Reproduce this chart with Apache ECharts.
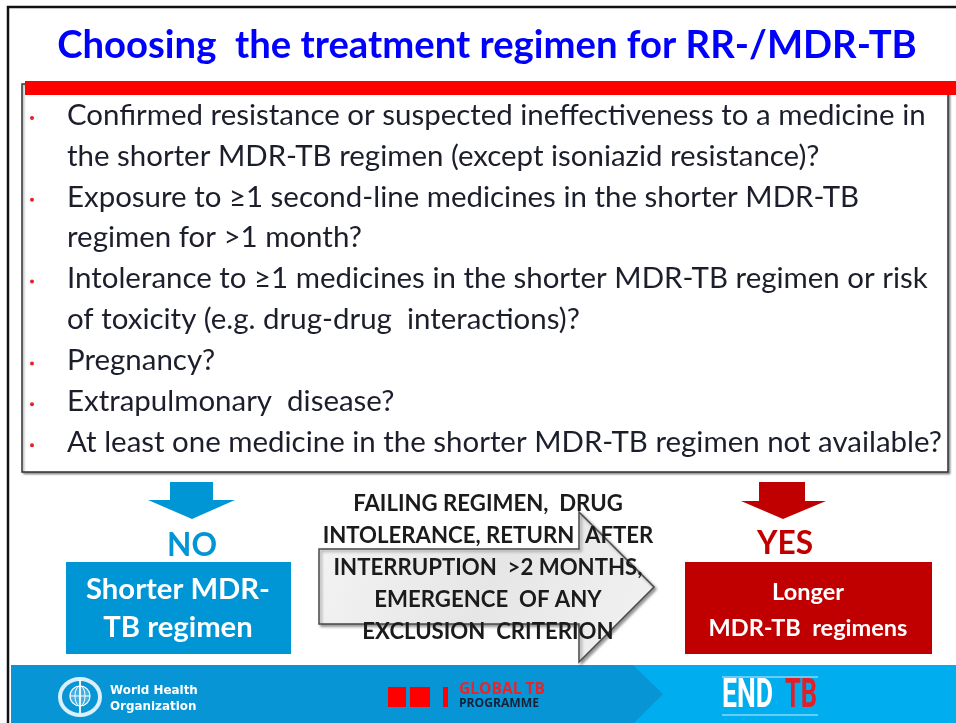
<!DOCTYPE html>
<html>
<head>
<meta charset="utf-8">
<title>Choosing the treatment regimen for RR-/MDR-TB</title>
<script src="https://cdn.jsdelivr.net/npm/echarts@6/dist/echarts.min.js"></script>
<style>
  html, body { margin: 0; padding: 0; background: #fff; }
  #chart { width: 956px; height: 723px; }
</style>
</head>
<body>
<div id="chart"></div>
<script>
  // slide texts
  const title = 'Choosing  the treatment regimen for RR-/MDR-TB'
  const questions = [
    ['Confirmed resistance or suspected ineffectiveness to a medicine in', 'the shorter MDR-TB regimen (except isoniazid resistance)?'],
    ['Exposure to \u22651 second-line medicines in the shorter MDR-TB', 'regimen for >1 month?'],
    ['Intolerance to \u22651 medicines in the shorter MDR-TB regimen or risk', 'of toxicity (e.g. drug-drug  interactions)?'],
    ['Pregnancy?'],
    ['Extrapulmonary  disease?'],
    ['At least one medicine in the shorter MDR-TB regimen not available?']
  ]
  const switchLines = ['FAILING REGIMEN,  DRUG', 'INTOLERANCE, RETURN  AFTER', 'INTERRUPTION  >2 MONTHS,', 'EMERGENCE  OF ANY', 'EXCLUSION  CRITERION']
  const noLabel = 'NO'
  const yesLabel = 'YES'
  const shorterLines = ['Shorter MDR-', 'TB regimen']
  const longerLines = ['Longer', 'MDR-TB  regimens']
  const whoLines = ['World Health', 'Organization']
  const gtbLines = ['GLOBAL TB', 'PROGRAMME']
  const endTb = ['END', 'TB']

  const BLUE = '#0096d6'
  const RED = '#c00000'
  const FONT = 'Lato'

  // measure helper: font size that makes text span the given width
  const ctx = document.createElement('canvas').getContext('2d')
  function fit (text, weight, family, width) {
    ctx.font = weight + ' 100px ' + family
    return 100 * width / ctx.measureText(text).width
  }

  function txt (text, x, y, size, fill, opts) {
    opts = opts || {}
    return {
      type: 'text', x: x, y: y, z: opts.z || 10,
      scaleX: opts.scaleX || 1,
      style: {
        text: text, fill: fill,
        fontSize: size, fontFamily: opts.family || FONT, fontWeight: opts.weight || 'normal',
        align: opts.align || 'left', verticalAlign: 'middle'
      }
    }
  }

  const els = []

  // outer frame
  els.push({type: 'rect', shape: {x: 8, y: 7, width: 980, height: 800}, style: {fill: null, stroke: '#111', lineWidth: 2.5}})

  // title
  const titleSize = fit(title, 'bold', FONT, 860)
  els.push(txt(title, 487, 46, titleSize, '#0000ff', {weight: 'bold', align: 'center'}))

  // question box
  els.push({type: 'rect', shape: {x: 22, y: 84, width: 926, height: 388},
    style: {fill: '#fff', stroke: '#333', lineWidth: 1.5, shadowBlur: 2, shadowOffsetX: 1.5, shadowOffsetY: 1.5, shadowColor: 'rgba(0,0,0,0.35)'}})
  els.push({type: 'rect', shape: {x: 25, y: 81, width: 940, height: 14}, style: {fill: '#ff0000'}, z: 5})

  const qSize = fit(questions[0][0], 'normal', FONT, 859)
  let line = 0
  questions.forEach(function (q) {
    q.forEach(function (s, k) {
      const base = 125 + line * 40.9
      if (k === 0) {
        els.push({type: 'circle', shape: {cx: 32, cy: base - 7, r: 2}, style: {fill: '#ee1c25'}})
      }
      els.push(txt(s, 67, base - qSize * 0.33, qSize, '#1c1f2b'))
      line++
    })
  })

  // down arrows
  els.push({type: 'polygon', shape: {points: [[170, 482], [213, 482], [213, 500], [235, 500], [192, 519], [148, 500], [170, 500]]}, style: {fill: BLUE}})
  els.push({type: 'polygon', shape: {points: [[759, 482], [805, 482], [805, 501], [826, 501], [783, 519], [741, 501], [759, 501]]}, style: {fill: RED}})

  const labSize = fit(noLabel, 'bold', FONT, 50)
  els.push(txt(noLabel, 192, 546, labSize, BLUE, {weight: 'bold', align: 'center'}))
  els.push(txt(yesLabel, 785, 544, labSize, RED, {weight: 'bold', align: 'center'}))

  // outcome boxes
  els.push({type: 'rect', shape: {x: 66, y: 562, width: 225, height: 92}, style: {fill: BLUE}})
  els.push({type: 'rect', shape: {x: 685, y: 562, width: 247, height: 92}, style: {fill: RED}})
  const shSize = fit(shorterLines[0], 'bold', FONT, 184)
  els.push(txt(shorterLines[0], 178, 590, shSize, '#fff', {weight: 'bold', align: 'center'}))
  els.push(txt(shorterLines[1], 178, 628, shSize, '#fff', {weight: 'bold', align: 'center'}))
  const loSize = fit(longerLines[1], 'bold', FONT, 199)
  els.push(txt(longerLines[0], 808, 592, loSize, '#fff', {weight: 'bold', align: 'center'}))
  els.push(txt(longerLines[1], 808, 628, loSize, '#fff', {weight: 'bold', align: 'center'}))

  // switch arrow
  els.push({type: 'polygon', z: 2,
    shape: {points: [[319, 549], [579, 549], [579, 512], [654, 587], [579, 662], [579, 624], [319, 624]]},
    style: {
      fill: new echarts.graphic.LinearGradient(0, 0, 1, 1, [{offset: 0, color: '#f4f4f4'}, {offset: 0.5, color: '#e6e6e6'}, {offset: 1, color: '#f2f2f2'}]),
      stroke: '#4a4a4a', lineWidth: 1.5, shadowBlur: 3, shadowOffsetX: 2, shadowOffsetY: 2, shadowColor: 'rgba(0,0,0,0.4)'
    }})
  const swSize = fit(switchLines[1], 'bold', FONT, 331)
  switchLines.forEach(function (s, i) {
    els.push(txt(s, 488, 504 + i * 32, swSize, '#1b1b1b', {weight: 'bold', align: 'center'}))
  })

  // footer band
  els.push({type: 'rect', shape: {x: 11, y: 665, width: 950, height: 60}, style: {fill: '#00adef'}})
  els.push({type: 'polygon', shape: {points: [[11, 665], [633, 665], [663, 694], [633, 724], [11, 724]]}, style: {fill: '#0795d6'}})

  // WHO emblem
  els.push({type: 'ellipse', shape: {cx: 80, cy: 697, rx: 20, ry: 18}, style: {fill: null, stroke: 'rgba(255,255,255,0.85)', lineWidth: 4}})
  els.push({type: 'circle', shape: {cx: 80, cy: 696, r: 10}, style: {fill: 'rgba(255,255,255,0.25)', stroke: '#fff', lineWidth: 1.2}})
  els.push({type: 'line', shape: {x1: 80, y1: 680, x2: 80, y2: 713}, style: {stroke: '#fff', lineWidth: 1.8}})
  els.push({type: 'line', shape: {x1: 70, y1: 696, x2: 90, y2: 696}, style: {stroke: '#fff', lineWidth: 1}})
  els.push({type: 'ellipse', shape: {cx: 80, cy: 696, rx: 5, ry: 10}, style: {fill: null, stroke: '#fff', lineWidth: 1}})
  const whoSize = fit(whoLines[0], 'bold', 'DejaVu Sans', 88)
  els.push(txt(whoLines[0], 110, 691, whoSize, '#fff', {weight: 'bold', family: 'DejaVu Sans'}))
  els.push(txt(whoLines[1], 110, 707, whoSize, '#fff', {weight: 'bold', family: 'DejaVu Sans'}))

  // Global TB programme
  els.push({type: 'rect', shape: {x: 388, y: 687, width: 18, height: 20}, style: {fill: '#ff0000'}})
  els.push({type: 'rect', shape: {x: 410, y: 687, width: 20, height: 20}, style: {fill: '#ff0000'}})
  els.push({type: 'rect', shape: {x: 443, y: 687, width: 5, height: 20}, style: {fill: '#ff0000'}})
  els.push(txt(gtbLines[0], 459, 690, fit(gtbLines[0], 'bold', 'Open Sans', 86), '#e8242b', {weight: 'bold', family: 'Open Sans'}))
  els.push(txt(gtbLines[1], 459, 704, fit(gtbLines[1], 'bold', 'Open Sans', 80), '#14233a', {weight: 'bold', family: 'Open Sans'}))

  // END TB
  ctx.font = 'bold 40px Roboto'
  const endScale = 51 / ctx.measureText(endTb[0]).width
  const tbScale = 32 / ctx.measureText(endTb[1]).width
  els.push(txt(endTb[0], 722, 697, 40, '#fff', {family: 'Roboto', weight: 'bold', scaleX: endScale}))
  els.push(txt(endTb[1], 785, 697, 40, '#e21f26', {family: 'Roboto', weight: 'bold', scaleX: tbScale}))
  els.push({type: 'line', shape: {x1: 722, y1: 677, x2: 818, y2: 677}, style: {stroke: 'rgba(255,255,255,0.8)', lineWidth: 1}})
  els.push({type: 'line', shape: {x1: 722, y1: 715, x2: 818, y2: 715}, style: {stroke: 'rgba(255,255,255,0.8)', lineWidth: 1}})

  const chart = echarts.init(document.getElementById('chart'))
  chart.setOption({
    backgroundColor: '#fff',
    animation: false,
    graphic: {elements: els}
  })
</script>
</body>
</html>
